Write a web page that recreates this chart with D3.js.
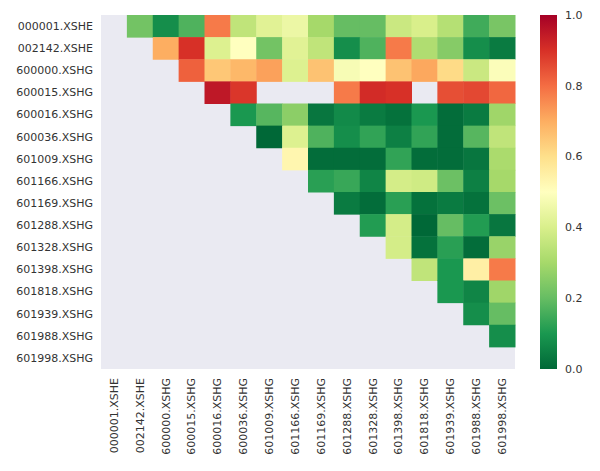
<!DOCTYPE html>
<html lang="en">
<head>
<meta charset="UTF-8">
<title>Correlation heatmap</title>
<script src="https://d3js.org/d3.v7.min.js"></script>
<style>
 body {margin: 0; padding: 0; background: #fff;}
 svg text {font-family: "DejaVu Sans", sans-serif; font-size: 11px; fill: #333;}
</style>
</head>
<body>
<svg id="chart" width="600" height="471"></svg>
<script>
// stock codes, same order on both axes
const labels = ['000001.XSHE', '002142.XSHE', '600000.XSHG', '600015.XSHG', '600016.XSHG',
  '600036.XSHG', '601009.XSHG', '601166.XSHG', '601169.XSHG', '601288.XSHG', '601328.XSHG',
  '601398.XSHG', '601818.XSHG', '601939.XSHG', '601988.XSHG', '601998.XSHG'];

// upper triangle only, null = masked / missing
const _ = null;
const values = [
  [_, 0.22, 0.08, 0.17, 0.78, 0.35, 0.42, 0.45, 0.30, 0.20, 0.20, 0.37, 0.40, 0.33, 0.15, 0.23],
  [_, _, 0.70, 0.90, 0.41, 0.50, 0.22, 0.42, 0.35, 0.08, 0.17, 0.78, 0.32, 0.25, 0.08, 0.04],
  [_, _, _, 0.82, 0.65, 0.68, 0.72, 0.41, 0.66, 0.48, 0.50, 0.66, 0.71, 0.61, 0.37, 0.49],
  [_, _, _, _, 0.95, 0.89, _, _, _, 0.78, 0.91, 0.90, _, 0.85, 0.86, 0.81],
  [_, _, _, _, _, 0.10, 0.18, 0.26, 0.03, 0.07, 0.04, 0.02, 0.10, 0.01, 0.04, 0.29],
  [_, _, _, _, _, _, 0.00, 0.41, 0.17, 0.08, 0.13, 0.05, 0.13, 0.01, 0.18, 0.35],
  [_, _, _, _, _, _, _, 0.53, 0.01, 0.01, 0.01, 0.13, 0.01, 0.01, 0.03, 0.31],
  [_, _, _, _, _, _, _, _, 0.12, 0.14, 0.06, 0.39, 0.38, 0.21, 0.05, 0.30],
  [_, _, _, _, _, _, _, _, _, 0.04, 0.01, 0.12, 0.02, 0.04, 0.02, 0.21],
  [_, _, _, _, _, _, _, _, _, _, 0.11, 0.39, 0.00, 0.20, 0.11, 0.03],
  [_, _, _, _, _, _, _, _, _, _, _, 0.39, 0.02, 0.12, 0.01, 0.28],
  [_, _, _, _, _, _, _, _, _, _, _, _, 0.35, 0.10, 0.55, 0.78],
  [_, _, _, _, _, _, _, _, _, _, _, _, _, 0.10, 0.06, 0.29],
  [_, _, _, _, _, _, _, _, _, _, _, _, _, _, 0.08, 0.20],
  [_, _, _, _, _, _, _, _, _, _, _, _, _, _, _, 0.08],
  [_, _, _, _, _, _, _, _, _, _, _, _, _, _, _, _]
];
const cbarTicks = [0, 0.2, 0.4, 0.6, 0.8, 1.0];

const svg = d3.select('#chart');
const plot = {left: 101, top: 15, width: 414, height: 354};

// RdYlGn reversed, 11 stops like matplotlib
const stops = d3.schemeRdYlGn[11].slice().reverse();
const color = d3.scaleLinear()
  .domain(d3.range(11).map(i => i / 10))
  .range(stops)
  .clamp(true);

const x = d3.scaleBand().domain(labels).range([plot.left, plot.left + plot.width]);
const y = d3.scaleBand().domain(labels).range([plot.top, plot.top + plot.height]);

svg.append('rect')
  .attr('x', plot.left).attr('y', plot.top)
  .attr('width', plot.width).attr('height', plot.height)
  .attr('fill', '#eaeaf2');

const cells = [];
values.forEach((row, i) => row.forEach((v, j) => {
  if (v !== null) cells.push({r: labels[i], c: labels[j], v});
}));

svg.append('g').selectAll('rect').data(cells).enter().append('rect')
  .attr('x', d => x(d.c))
  .attr('y', d => y(d.r))
  .attr('width', x.bandwidth() + 0.5)
  .attr('height', y.bandwidth() + 0.5)
  .attr('fill', d => color(d.v));

// y labels
svg.append('g').selectAll('text').data(labels).enter().append('text')
  .attr('x', plot.left - 8)
  .attr('y', d => y(d) + y.bandwidth() / 2)
  .attr('dy', '0.35em')
  .attr('text-anchor', 'end')
  .text(d => d);

// x labels, rotated
svg.append('g').selectAll('text').data(labels).enter().append('text')
  .attr('transform', d => `translate(${x(d) + x.bandwidth() / 2},${plot.top + plot.height + 9}) rotate(-90)`)
  .attr('dy', '0.35em')
  .attr('text-anchor', 'end')
  .text(d => d);

// colorbar
const cb = {left: 540, width: 17, top: 15, height: 354};
const defs = svg.append('defs');
const grad = defs.append('linearGradient').attr('id', 'cbar')
  .attr('x1', 0).attr('y1', 1).attr('x2', 0).attr('y2', 0);
grad.selectAll('stop').data(stops).enter().append('stop')
  .attr('offset', (d, i) => i / 10)
  .attr('stop-color', d => d);
svg.append('rect')
  .attr('x', cb.left).attr('y', cb.top)
  .attr('width', cb.width).attr('height', cb.height)
  .attr('fill', 'url(#cbar)');

const cy = d3.scaleLinear().domain([0, 1]).range([cb.top + cb.height, cb.top]);
svg.append('g').selectAll('text').data(cbarTicks).enter().append('text')
  .attr('x', cb.left + cb.width + 8)
  .attr('y', d => cy(d))
  .attr('dy', '0.35em')
  .text(d => d3.format('.1f')(d));
</script>
</body>
</html>
